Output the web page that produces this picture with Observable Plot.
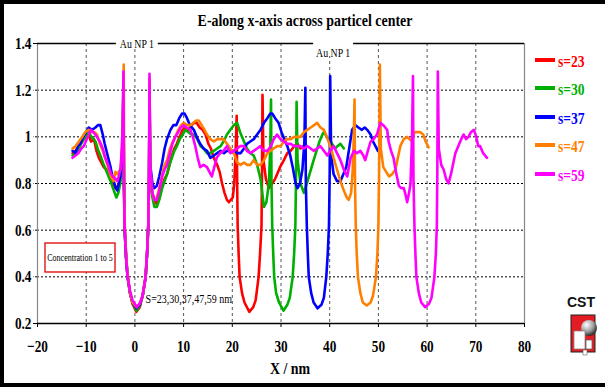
<!DOCTYPE html>
<html><head><meta charset="utf-8">
<script src="https://cdn.jsdelivr.net/npm/d3@7"></script>
<script src="https://cdn.jsdelivr.net/npm/@observablehq/plot@0.6"></script>
<style>
html,body{margin:0;padding:0;background:#fff;}
#chart{position:relative;width:605px;height:387px;overflow:hidden;}
</style></head><body><div id="chart"></div>
<script>
const seriesNames = ["s=23","s=30","s=37","s=47","s=59"];
const seriesColors = ["#ff0000","#00b000","#0000ff","#ff8000","#ff00ff"];
const xTicks = [-20,-10,0,10,20,30,40,50,60,70,80];
const yTicks = [0.2,0.4,0.6,0.8,1,1.2,1.4];
const yTickLabels = ["0.2","0.4","0.6","0.8","1","1.2","1.4"];
const titleText = "E-along x-axis across particel center";
const xLabelText = "X / nm";
const boxText = "Concentration 1 to 5";
const sepText = "S=23,30,37,47,59 nm";
const particleText = "Au NP 1";

const s23 = [[-12.8,0.93],[-12.2,0.94],[-11.5,0.96],[-10.8,0.98],[-10.2,1.00],[-9.5,1.01],[-9.0,0.98],[-8.4,0.99],[-7.9,0.94],[-7.4,0.91],[-6.9,0.89],[-6.4,0.87],[-5.8,0.86],[-5.0,0.83],[-4.5,0.80],[-4.0,0.78],[-3.5,0.79],[-3.1,0.81],[-2.8,0.86],[-2.5,0.95],[-2.35,1.20],[-2.25,0.80],[-2.1,0.60],[-1.8,0.48],[-1.5,0.40],[-1.0,0.33],[-0.5,0.285],[0.3,0.25],[1.0,0.27],[1.6,0.32],[2.2,0.40],[2.5,0.50],[2.75,0.62],[2.9,0.80],[3.0,1.15],[3.15,0.85],[3.5,0.76],[4.0,0.73],[4.5,0.71],[5.0,0.74],[5.6,0.79],[6.1,0.82],[6.6,0.84],[7.1,0.88],[7.6,0.92],[8.1,0.95],[8.6,0.97],[9.2,1.00],[9.8,1.03],[10.4,1.04],[11.0,1.03],[11.6,1.05],[12.2,1.06],[12.7,1.06],[13.3,1.04],[13.9,1.03],[14.5,1.01],[15.1,0.97],[15.6,0.95],[16.2,0.91],[16.9,0.88],[17.4,0.85],[17.9,0.80],[18.4,0.76],[18.9,0.73],[19.3,0.72],[19.7,0.73],[20.1,0.74],[20.4,0.80],[20.7,0.95],[20.9,1.09],[21.0,0.80],[21.1,0.62],[21.3,0.50],[21.5,0.40],[22.0,0.33],[22.5,0.29],[23.5,0.25],[24.3,0.27],[24.8,0.30],[25.4,0.40],[25.7,0.50],[26.0,0.62],[26.1,0.85],[26.2,1.18],[26.4,0.90],[26.9,0.82],[27.5,0.78],[28.2,0.80],[28.8,0.82],[29.2,0.84],[29.8,0.87],[30.6,0.90],[31.3,0.93],[32.0,0.94],[32.7,0.96],[33.4,0.97],[34.0,0.95],[34.6,0.96]];

const s30 = [[-12.8,0.92],[-12.2,0.93],[-11.5,0.95],[-10.8,0.98],[-10.2,1.00],[-9.5,1.02],[-8.9,1.00],[-8.1,0.98],[-7.5,0.94],[-6.9,0.91],[-6.4,0.88],[-5.8,0.85],[-5.0,0.81],[-4.5,0.78],[-3.8,0.74],[-3.4,0.76],[-3.0,0.80],[-2.7,0.88],[-2.5,0.98],[-2.35,1.22],[-2.25,0.80],[-2.1,0.60],[-1.8,0.48],[-1.5,0.40],[-1.0,0.33],[-0.5,0.29],[0.3,0.255],[1.0,0.275],[1.6,0.32],[2.2,0.40],[2.5,0.50],[2.75,0.62],[2.9,0.80],[3.0,1.20],[3.15,0.85],[3.6,0.74],[4.0,0.70],[4.5,0.70],[5.0,0.73],[5.6,0.78],[6.1,0.81],[6.6,0.84],[7.1,0.88],[7.6,0.91],[8.1,0.94],[8.6,0.96],[9.2,0.99],[9.8,1.01],[10.4,1.03],[11.0,1.02],[11.6,1.01],[12.2,1.01],[12.8,0.99],[13.5,0.96],[14.1,0.95],[14.8,0.93],[15.5,0.93],[16.2,0.94],[16.9,0.95],[17.6,0.96],[18.2,0.98],[18.9,1.01],[19.6,1.03],[20.3,1.05],[21.0,1.06],[21.6,1.02],[22.4,0.98],[23.0,0.95],[23.7,0.93],[24.4,0.92],[25.1,0.88],[25.8,0.82],[26.5,0.70],[27.0,0.72],[27.5,0.80],[27.8,0.95],[27.95,1.16],[28.05,0.80],[28.2,0.62],[28.4,0.50],[28.6,0.40],[29.0,0.33],[29.6,0.29],[30.5,0.255],[31.3,0.28],[31.8,0.31],[32.4,0.40],[32.7,0.50],[32.95,0.62],[33.1,0.85],[33.2,1.15],[33.4,0.90],[34.0,0.80],[34.7,0.76],[35.3,0.80],[36.0,0.85],[36.7,0.90],[37.3,0.94],[37.9,0.98],[38.5,1.01],[38.8,1.02],[39.4,1.00],[39.9,0.99],[40.5,0.97],[41.1,0.95],[41.6,0.96],[42.2,0.97],[42.9,0.95]];

const s37 = [[-12.8,0.94],[-12.2,0.93],[-11.7,0.96],[-11.2,0.97],[-10.6,1.00],[-10.0,1.02],[-9.5,1.04],[-8.8,1.03],[-8.1,1.04],[-7.6,1.05],[-7.1,1.05],[-6.6,1.01],[-6.2,0.97],[-5.6,0.92],[-5.0,0.87],[-4.5,0.82],[-3.9,0.78],[-3.6,0.77],[-3.3,0.80],[-3.0,0.83],[-2.7,0.90],[-2.5,1.00],[-2.35,1.25],[-2.25,0.82],[-2.1,0.60],[-1.8,0.48],[-1.5,0.40],[-1.0,0.33],[-0.5,0.29],[0.3,0.265],[1.0,0.28],[1.6,0.32],[2.2,0.40],[2.5,0.50],[2.75,0.62],[2.9,0.80],[3.0,1.22],[3.15,0.88],[3.6,0.80],[4.0,0.78],[4.5,0.79],[5.0,0.83],[5.6,0.89],[6.1,0.95],[6.6,0.99],[7.3,1.03],[7.9,1.05],[8.5,1.05],[9.1,1.08],[9.7,1.10],[10.2,1.10],[10.7,1.08],[11.3,1.05],[12.1,1.03],[12.7,1.00],[13.4,0.97],[14.1,0.95],[14.8,0.94],[15.5,0.91],[16.2,0.92],[16.9,0.93],[17.6,0.94],[18.3,0.93],[18.9,0.94],[19.6,0.94],[20.3,0.94],[21.0,0.93],[21.7,0.93],[22.4,0.95],[23.0,0.97],[23.7,0.98],[24.4,0.99],[25.1,1.01],[25.8,1.03],[26.5,1.06],[27.2,1.08],[27.8,1.10],[28.2,1.10],[28.8,1.08],[29.5,1.06],[30.1,1.02],[30.7,0.99],[31.3,0.96],[31.9,0.92],[32.5,0.86],[33.0,0.80],[33.4,0.78],[33.9,0.80],[34.4,0.86],[34.8,0.98],[35.0,1.21],[35.1,0.80],[35.3,0.62],[35.5,0.50],[35.7,0.40],[36.2,0.33],[36.7,0.29],[37.5,0.265],[38.3,0.28],[38.8,0.31],[39.3,0.40],[39.6,0.50],[39.85,0.62],[40.0,0.85],[40.1,1.26],[40.3,0.92],[40.8,0.84],[41.5,0.81],[42.2,0.81],[42.8,0.84],[43.4,0.87],[44.0,0.95],[44.6,1.03],[45.3,1.05],[45.9,1.04],[46.6,1.03],[47.2,1.04],[47.7,1.03],[48.4,1.01],[48.9,0.98],[49.4,0.96],[49.9,0.94]];

const s47 = [[-12.8,0.95],[-12.2,0.96],[-11.5,0.98],[-10.8,1.00],[-10.2,1.02],[-9.5,1.03],[-8.9,1.02],[-8.3,1.02],[-7.8,1.01],[-7.2,0.97],[-6.6,0.94],[-6.1,0.91],[-5.5,0.87],[-4.9,0.83],[-4.4,0.81],[-4.0,0.85],[-3.6,0.84],[-3.0,0.86],[-2.7,0.92],[-2.5,1.02],[-2.3,1.31],[-2.2,0.82],[-2.05,0.60],[-1.75,0.48],[-1.45,0.40],[-1.0,0.33],[-0.5,0.29],[0.35,0.27],[1.0,0.285],[1.6,0.32],[2.2,0.40],[2.5,0.50],[2.75,0.62],[2.9,0.80],[3.0,1.25],[3.15,0.86],[3.6,0.76],[4.0,0.73],[4.5,0.74],[5.0,0.78],[5.6,0.84],[6.1,0.88],[6.6,0.90],[7.2,0.95],[7.8,0.98],[8.3,1.00],[8.9,1.03],[9.5,1.05],[10.0,1.06],[10.7,1.05],[11.4,1.05],[12.0,1.06],[12.6,1.07],[13.1,1.07],[13.7,1.05],[14.3,1.03],[14.8,1.01],[15.5,0.99],[16.2,0.98],[16.9,0.99],[17.6,0.99],[18.2,0.99],[18.9,0.97],[19.6,0.95],[20.3,0.93],[21.0,0.89],[21.7,0.88],[22.4,0.89],[23.0,0.88],[23.7,0.88],[24.4,0.90],[25.1,0.88],[25.8,0.88],[26.5,0.90],[27.2,0.93],[27.8,0.94],[28.5,0.95],[29.2,0.96],[29.9,0.96],[30.6,0.98],[31.3,0.99],[32.0,0.99],[32.7,1.00],[33.4,1.00],[34.0,1.00],[34.7,1.02],[35.4,1.03],[36.1,1.04],[36.8,1.05],[37.4,1.06],[38.1,1.04],[38.8,1.03],[39.4,1.00],[40.1,0.96],[40.8,0.91],[41.5,0.86],[42.2,0.81],[42.9,0.77],[43.5,0.74],[43.9,0.73],[44.4,0.76],[44.7,0.85],[44.95,1.00],[45.1,1.16],[45.2,0.80],[45.35,0.62],[45.55,0.50],[45.8,0.40],[46.3,0.33],[46.8,0.29],[47.6,0.277],[48.4,0.29],[48.9,0.32],[49.5,0.40],[49.8,0.50],[50.0,0.62],[50.15,0.85],[50.3,1.31],[50.5,0.95],[51.0,0.87],[51.6,0.85],[52.2,0.83],[52.8,0.84],[53.5,0.86],[54.0,0.91],[54.5,0.96],[55.2,0.99],[55.9,1.00],[56.4,0.99],[56.9,0.98],[57.4,1.02],[58.0,1.02],[58.6,1.02],[59.2,1.01],[59.7,0.98],[60.3,0.955]];

const s59 = [[-12.8,0.91],[-12.2,0.92],[-11.6,0.93],[-11.0,0.95],[-10.5,0.96],[-9.9,0.99],[-9.4,1.01],[-9.0,1.03],[-8.5,1.02],[-7.8,1.00],[-7.2,0.98],[-6.6,0.95],[-6.1,0.91],[-5.5,0.88],[-4.9,0.84],[-4.5,0.83],[-4.0,0.82],[-3.6,0.81],[-3.2,0.84],[-2.9,0.87],[-2.7,0.95],[-2.5,1.05],[-2.35,1.28],[-2.25,0.82],[-2.1,0.62],[-1.8,0.48],[-1.5,0.40],[-1.0,0.34],[-0.5,0.30],[0.4,0.27],[1.1,0.29],[1.6,0.32],[2.2,0.40],[2.5,0.50],[2.75,0.62],[2.9,0.85],[3.0,1.27],[3.15,0.87],[3.6,0.76],[4.0,0.73],[4.5,0.73],[5.0,0.77],[5.6,0.83],[6.1,0.86],[6.6,0.88],[7.2,0.93],[7.7,0.97],[8.3,1.00],[8.9,1.02],[9.4,1.04],[10.0,1.05],[10.6,1.04],[11.4,1.03],[11.9,1.00],[12.4,0.96],[12.9,0.91],[13.4,0.87],[14.1,0.88],[14.8,0.87],[15.3,0.85],[15.8,0.83],[16.3,0.87],[16.8,0.91],[17.5,0.93],[18.2,0.94],[18.9,0.96],[19.6,0.93],[20.3,0.94],[21.0,0.95],[21.6,0.96],[22.4,0.96],[23.0,0.94],[23.7,0.93],[24.4,0.94],[25.1,0.95],[25.7,0.96],[26.5,0.94],[27.2,0.94],[27.9,0.96],[28.5,0.99],[29.2,1.01],[29.9,0.99],[30.6,0.98],[31.3,0.97],[32.0,0.97],[32.7,0.96],[33.4,0.96],[34.0,0.96],[34.7,0.95],[35.4,0.96],[36.1,0.95],[36.7,0.94],[37.4,0.95],[38.1,0.96],[38.8,0.94],[39.5,0.92],[40.1,0.94],[40.8,0.96],[41.5,0.93],[42.2,0.90],[42.9,0.86],[43.6,0.83],[44.3,0.91],[45.0,0.94],[45.6,0.93],[46.3,0.94],[46.9,0.92],[47.3,0.90],[47.7,0.93],[48.4,0.98],[49.0,0.99],[49.7,1.01],[50.4,1.06],[51.0,1.05],[51.4,1.04],[51.8,1.03],[52.1,0.98],[52.6,0.94],[53.1,0.91],[53.6,0.85],[54.2,0.79],[54.7,0.78],[55.2,0.78],[55.6,0.75],[55.9,0.72],[56.3,0.76],[56.6,0.80],[56.9,1.00],[57.1,1.26],[57.2,0.82],[57.4,0.62],[57.6,0.50],[57.8,0.40],[58.3,0.33],[58.8,0.29],[59.6,0.27],[60.4,0.285],[60.9,0.31],[61.5,0.40],[61.8,0.50],[62.0,0.62],[62.1,0.85],[62.2,1.28],[62.4,0.95],[62.9,0.88],[63.4,0.86],[63.9,0.82],[64.4,0.80],[64.9,0.84],[65.4,0.89],[65.8,0.93],[66.4,0.96],[67.0,0.99],[67.5,1.01],[68.0,0.99],[68.5,1.00],[69.0,1.02],[69.6,1.03],[70.1,1.00],[70.5,0.96],[70.9,0.96],[71.5,0.93],[72.3,0.91]];

const allSeries = [s23, s30, s37, s47, s59];
const rows = [];
allSeries.forEach((arr, i) => arr.forEach(([x, y]) => rows.push({x, y, s: seriesNames[i]})));

const serif = "'Liberation Serif','Times New Roman',serif";
const plot = Plot.plot({
  width: 605, height: 387,
  marginLeft: 37, marginRight: 81, marginTop: 43, marginBottom: 64,
  style: {fontFamily: serif, fontSize: "17px", fontWeight: "bold", background: "#fff", color: "#000", overflow: "visible"},
  x: {domain: [-20, 80]},
  y: {domain: [0.2, 1.4]},
  color: {domain: seriesNames, range: seriesColors},
  marks: [
    Plot.ruleY(yTicks.slice(1, -1), {stroke: "#000", strokeDasharray: "2,2", strokeWidth: 1}),
    Plot.ruleX(xTicks.slice(1, -1), {stroke: "#555", strokeDasharray: "3,3", strokeWidth: 1}),
    Plot.ruleX([-20, 80], {stroke: "#888", strokeWidth: 1.2}),
    Plot.ruleY([0.2, 1.4], {stroke: "#000", strokeWidth: 1.5}),
    Plot.axisY({ticks: yTicks, tickFormat: d => yTickLabels[yTicks.findIndex(t => Math.abs(t - d) < 1e-9)], tickSize: 4, tickPadding: 2, label: null}),
    Plot.axisX({ticks: xTicks, tickSize: 4, tickPadding: 12, label: null}),
    Plot.line(rows, {x: "x", y: "y", z: "s", stroke: "s", strokeWidth: 2.6, strokeLinejoin: "round"})
  ]
});

const svg = d3.select(plot);
svg.selectAll('g[aria-label="x-axis tick label"] text, g[aria-label="y-axis tick label"] text')
  .attr("transform", function() { return (this.getAttribute("transform") || "") + " scale(0.78,1)"; });
svg.selectAll('g[aria-label="y-axis tick"] path').attr("stroke-dasharray", (d, i, n) => (i === 0 || i === n.length - 1) ? null : "2,1.5");

const sx = plot.scale("x"), sy = plot.scale("y");
const X = v => sx.apply(v), Y = v => sy.apply(v);

function condText(g, x, y, txt, size, opts = {}) {
  const t = g.append("text").attr("transform", `translate(${x},${y}) scale(${opts.sx ?? 0.82},1)`)
    .attr("text-anchor", opts.anchor || "middle").attr("dominant-baseline", "central")
    .style("font-family", opts.family || serif).style("font-size", size + "px")
    .style("font-weight", opts.weight || "bold").attr("fill", opts.fill || "#000").text(txt);
  return t;
}

const ann = svg.append("g");
condText(ann, 305, 20, titleText, 17);
condText(ann, 290, 368, xLabelText, 17);
ann.append("rect").attr("x", X(-3.8)).attr("y", Y(1.4) - 6).attr("width", X(4.8) - X(-3.8)).attr("height", 12).attr("fill", "#fff");
condText(ann, X(0.5), Y(1.4) + 1, particleText, 12, {weight: "normal"});
ann.append("rect").attr("x", X(36.7)).attr("y", Y(1.4) - 2).attr("width", X(44.9) - X(36.7)).attr("height", 15).attr("fill", "#fff");
condText(ann, X(40.8), Y(1.4) + 10, particleText, 12, {weight: "normal"});
ann.append("rect").attr("x", 45).attr("y", 243).attr("width", 70).attr("height", 29).attr("fill", "#fff").attr("stroke", "#e00000").attr("stroke-width", 1.3);
condText(ann, 80, 257.5, boxText, 10, {weight: "normal", sx: 0.8});
condText(ann, X(2.3), Y(0.305), sepText, 12.5, {weight: "normal", anchor: "start", sx: 0.8});

const leg = svg.append("g");
const legY = [60, 88, 117, 145, 174];
seriesNames.forEach((n, i) => {
  leg.append("line").attr("x1", 535).attr("x2", 555).attr("y1", legY[i]).attr("y2", legY[i]).attr("stroke", seriesColors[i]).attr("stroke-width", 4);
  condText(leg, 558, legY[i] + 1, n, 17, {anchor: "start", fill: seriesColors[i], sx: 0.8});
});

const bd = svg.append("g");
bd.append("rect").attr("x", 0).attr("y", 0).attr("width", 4).attr("height", 387).attr("fill", "#000");
bd.append("rect").attr("x", 0).attr("y", 0).attr("width", 605).attr("height", 4).attr("fill", "#000");
bd.append("rect").attr("x", 0).attr("y", 383).attr("width", 605).attr("height", 4).attr("fill", "#000");

const defs = svg.append("defs");
const rg = defs.append("radialGradient").attr("id", "sph").attr("cx", "35%").attr("cy", "30%").attr("r", "70%");
rg.append("stop").attr("offset", "0%").attr("stop-color", "#ffffff");
rg.append("stop").attr("offset", "60%").attr("stop-color", "#a0a0a0");
rg.append("stop").attr("offset", "100%").attr("stop-color", "#303030");
const logo = svg.append("g");
logo.append("text").attr("x", 581).attr("y", 307).attr("text-anchor", "middle")
  .style("font-family", "'Liberation Sans',Arial,sans-serif").style("font-size", "14px").style("font-weight", "bold").attr("fill", "#111").text("CST");
logo.append("rect").attr("x", 571).attr("y", 315).attr("width", 24).attr("height", 37).attr("fill", "#e31b23").attr("stroke", "#222").attr("stroke-width", 1);
logo.append("circle").attr("cx", 589).attr("cy", 328).attr("r", 8).attr("fill", "url(#sph)");
logo.append("rect").attr("x", 574).attr("y", 331).attr("width", 11).attr("height", 18).attr("fill", "#fff").attr("stroke", "#888").attr("stroke-width", 0.8);
logo.append("rect").attr("x", 586).attr("y", 340).attr("width", 6).attr("height", 9).attr("fill", "#fff").attr("stroke", "#666").attr("stroke-width", 0.8);
logo.append("rect").attr("x", 583).attr("y", 350).attr("width", 4).attr("height", 5).attr("fill", "#fff").attr("stroke", "#666").attr("stroke-width", 0.6);

document.getElementById("chart").appendChild(plot);
</script></body></html>
